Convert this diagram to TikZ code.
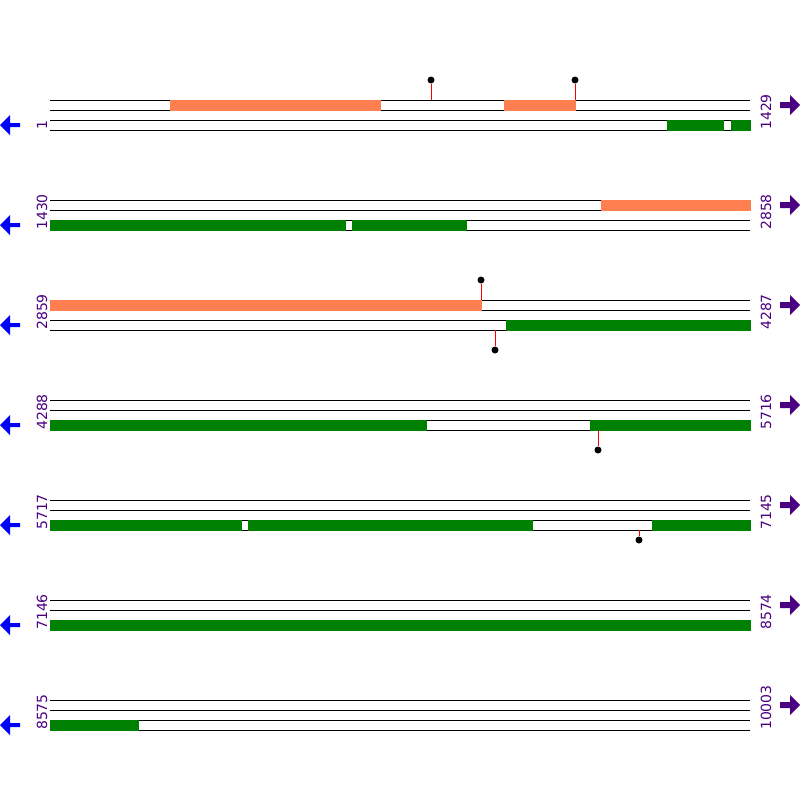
\documentclass[tikz,border=0pt]{standalone}
\usepackage{fontspec}
\setsansfont{DejaVu Sans}
\usepackage{tikz}

\definecolor{exoncol}{HTML}{FF7F50}
\definecolor{cdscol}{HTML}{008000}
\definecolor{numcol}{HTML}{4B0082}

\begin{document}
\begin{tikzpicture}[x=1pt, y=-1pt,
	strand/.style={line width=1pt},
	rna/.style={fill=exoncol, draw=exoncol, line width=1pt},
	cds/.style={fill=cdscol, draw=cdscol, line width=1pt},
	pin/.style={red, line width=1pt},
	dot/.style={circle, fill=black, inner sep=0pt, minimum size=7pt},
	startnum/.style={numcol, rotate=90, anchor=base west, inner sep=0pt, font=\sffamily\fontsize{14}{14}\selectfont},
	endnum/.style={startnum},
	fwd/.style={fill=numcol},
	rev/.style={fill=blue}]
	\useasboundingbox[fill=white] (0,0) rectangle (800,800);

	% strands, two lines each
	\draw[strand] (50,100) -- (750,100); \draw[strand] (50,110) -- (750,110);
	\draw[strand] (50,120) -- (750,120); \draw[strand] (50,130) -- (750,130);
	\draw[strand] (50,200) -- (750,200); \draw[strand] (50,210) -- (750,210);
	\draw[strand] (50,220) -- (750,220); \draw[strand] (50,230) -- (750,230);
	\draw[strand] (50,300) -- (750,300); \draw[strand] (50,310) -- (750,310);
	\draw[strand] (50,320) -- (750,320); \draw[strand] (50,330) -- (750,330);
	\draw[strand] (50,400) -- (750,400); \draw[strand] (50,410) -- (750,410);
	\draw[strand] (50,420) -- (750,420); \draw[strand] (50,430) -- (750,430);
	\draw[strand] (50,500) -- (750,500); \draw[strand] (50,510) -- (750,510);
	\draw[strand] (50,520) -- (750,520); \draw[strand] (50,530) -- (750,530);
	\draw[strand] (50,600) -- (750,600); \draw[strand] (50,610) -- (750,610);
	\draw[strand] (50,620) -- (750,620); \draw[strand] (50,630) -- (750,630);
	\draw[strand] (50,700) -- (750,700); \draw[strand] (50,710) -- (750,710);
	\draw[strand] (50,720) -- (750,720); \draw[strand] (50,730) -- (750,730);

	% forward features
	\filldraw[rna] (170,100) rectangle (380,110);
	\filldraw[rna] (504,100) rectangle (575,110);
	\filldraw[rna] (601,200) rectangle (750,210);
	\filldraw[rna] (50,300) rectangle (481,310);

	% reverse features
	\filldraw[cds] (667,120) rectangle (723,130);
	\filldraw[cds] (731,120) rectangle (750,130);
	\filldraw[cds] (50,220) rectangle (345,230);
	\filldraw[cds] (352,220) rectangle (466,230);
	\filldraw[cds] (506,320) rectangle (750,330);
	\filldraw[cds] (50,420) rectangle (426,430);
	\filldraw[cds] (590,420) rectangle (750,430);
	\filldraw[cds] (50,520) rectangle (241,530);
	\filldraw[cds] (248,520) rectangle (532,530);
	\filldraw[cds] (652,520) rectangle (750,530);
	\filldraw[cds] (50,620) rectangle (750,630);
	\filldraw[cds] (50,720) rectangle (138,730);

	% sites
	\coordinate (s1) at (431,100); \node[dot] (d1) at (431,80) {};
	\coordinate (s2) at (575,100); \node[dot] (d2) at (575,80) {};
	\coordinate (s3) at (481,300); \node[dot] (d3) at (481,280) {};
	\coordinate (s4) at (495,330); \node[dot] (d4) at (495,350) {};
	\coordinate (s5) at (598,430); \node[dot] (d5) at (598,450) {};
	\coordinate (s6) at (639,530); \node[dot] (d6) at (639,540) {};
	\draw[pin] (s1) -- (d1);
	\draw[pin] (s2) -- (d2);
	\draw[pin] (s3) -- (d3);
	\draw[pin] (s4) -- (d4);
	\draw[pin] (s5) -- (d5);
	\draw[pin] (s6) -- (d6);

	% numbers
	\node[startnum] (a1) at (47,130) {1};
	\node[startnum] (a2) at (47,230) {1430};
	\node[startnum] (a3) at (47,330) {2859};
	\node[startnum] (a4) at (47,430) {4288};
	\node[startnum] (a5) at (47,530) {5717};
	\node[startnum] (a6) at (47,630) {7146};
	\node[startnum] (a7) at (47,730) {8575};
	\node[endnum] (b1) at (771,130) {1429};
	\node[endnum] (b2) at (771,230) {2858};
	\node[endnum] (b3) at (771,330) {4287};
	\node[endnum] (b4) at (771,430) {5716};
	\node[endnum] (b5) at (771,530) {7145};
	\node[endnum] (b6) at (771,630) {8574};
	\node[endnum] (b7) at (771,730) {10003};

	% direction arrows
	\fill[fwd] (780,102) -- (790,102) -- (790,95) -- (800,105) -- (790,115) -- (790,108) -- (780,108) -- cycle;
	\fill[fwd] (780,202) -- (790,202) -- (790,195) -- (800,205) -- (790,215) -- (790,208) -- (780,208) -- cycle;
	\fill[fwd] (780,302) -- (790,302) -- (790,295) -- (800,305) -- (790,315) -- (790,308) -- (780,308) -- cycle;
	\fill[fwd] (780,402) -- (790,402) -- (790,395) -- (800,405) -- (790,415) -- (790,408) -- (780,408) -- cycle;
	\fill[fwd] (780,502) -- (790,502) -- (790,495) -- (800,505) -- (790,515) -- (790,508) -- (780,508) -- cycle;
	\fill[fwd] (780,602) -- (790,602) -- (790,595) -- (800,605) -- (790,615) -- (790,608) -- (780,608) -- cycle;
	\fill[fwd] (780,702) -- (790,702) -- (790,695) -- (800,705) -- (790,715) -- (790,708) -- (780,708) -- cycle;
	\fill[rev] (20,123) -- (10,123) -- (10,115) -- (0,125) -- (10,135) -- (10,127) -- (20,127) -- cycle;
	\fill[rev] (20,223) -- (10,223) -- (10,215) -- (0,225) -- (10,235) -- (10,227) -- (20,227) -- cycle;
	\fill[rev] (20,323) -- (10,323) -- (10,315) -- (0,325) -- (10,335) -- (10,327) -- (20,327) -- cycle;
	\fill[rev] (20,423) -- (10,423) -- (10,415) -- (0,425) -- (10,435) -- (10,427) -- (20,427) -- cycle;
	\fill[rev] (20,523) -- (10,523) -- (10,515) -- (0,525) -- (10,535) -- (10,527) -- (20,527) -- cycle;
	\fill[rev] (20,623) -- (10,623) -- (10,615) -- (0,625) -- (10,635) -- (10,627) -- (20,627) -- cycle;
	\fill[rev] (20,723) -- (10,723) -- (10,715) -- (0,725) -- (10,735) -- (10,727) -- (20,727) -- cycle;
\end{tikzpicture}
\end{document}
